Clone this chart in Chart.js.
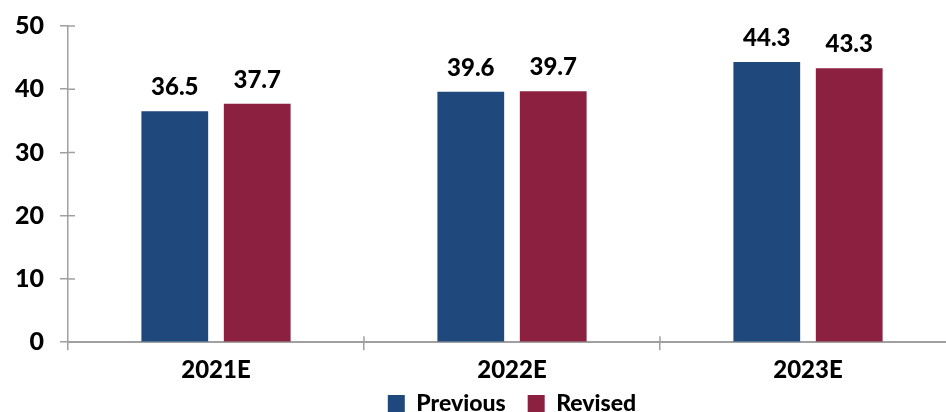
<!DOCTYPE html>
<html>
<head>
<meta charset="utf-8">
<script src="https://cdn.jsdelivr.net/npm/chart.js@4.4.1/dist/chart.umd.min.js"></script>
<style>
  html, body { margin: 0; padding: 0; background: #fff; overflow: hidden; }
  #wrap { width: 946px; height: 412px; overflow: hidden; }
</style>
</head>
<body>
<div id="wrap"><canvas id="chart" width="960" height="412"></canvas></div>
<script>
// Data
const categories = ['2021E', '2022E', '2023E'];
const previous = [36.5, 39.6, 44.3];
const revised = [37.7, 39.7, 43.3];
const yTicks = [0, 10, 20, 30, 40, 50];

const colors = {
  previous: '#1F497D',
  revised: '#8C2041',
  axis: '#A0A0A0',
  text: '#000000'
};
const fontFamily = 'Lato, "Open Sans", Arial, sans-serif';

// Value labels above bars
const valueLabels = {
  id: 'valueLabels',
  afterDatasetsDraw(chart) {
    const { ctx } = chart;
    ctx.save();
    ctx.font = `900 24px ${fontFamily}`;
    ctx.fillStyle = colors.text;
    ctx.textAlign = 'center';
    ctx.textBaseline = 'alphabetic';
    chart.data.datasets.forEach((ds, di) => {
      chart.getDatasetMeta(di).data.forEach((bar, i) => {
        ctx.fillText(ds.data[i].toFixed(1), bar.x, bar.y - 16);
      });
    });
    ctx.restore();
  }
};

// Short tick marks that cross the axes (inner half)
const crossTicks = {
  id: 'crossTicks',
  afterDraw(chart) {
    const { ctx, scales: { x, y } } = chart;
    ctx.save();
    ctx.strokeStyle = colors.axis;
    ctx.lineWidth = 1.5;
    yTicks.forEach(v => {
      const py = y.getPixelForValue(v);
      ctx.beginPath();
      ctx.moveTo(x.left, py);
      ctx.lineTo(x.left + 7, py);
      ctx.stroke();
    });
    for (let i = 1; i < categories.length; i++) {
      const px = (x.getPixelForValue(i - 1) + x.getPixelForValue(i)) / 2;
      ctx.beginPath();
      ctx.moveTo(px, y.bottom);
      ctx.lineTo(px, y.bottom - 6);
      ctx.stroke();
    }
    ctx.restore();
  }
};

// Wide legend item spacing needs a big padding, which also pushes the row down; lift it back
const legendLift = {
  id: 'legendLift',
  afterLayout(chart) {
    const lg = chart.legend;
    if (!lg) return;
    lg.top -= 21;
    lg.bottom -= 21;
  }
};

new Chart(document.getElementById('chart'), {
  type: 'bar',
  data: {
    labels: categories,
    datasets: [
      { label: 'Previous', data: previous, backgroundColor: colors.previous },
      { label: 'Revised', data: revised, backgroundColor: colors.revised }
    ]
  },
  options: {
    responsive: false,
    animation: false,
    layout: { padding: { top: 26, left: -1, right: 4, bottom: -34 } },
    datasets: { bar: { categoryPercentage: 0.557, barPercentage: 0.81 } },
    scales: {
      x: {
        grid: { display: true, drawOnChartArea: false, offset: true, tickLength: 8, color: colors.axis, lineWidth: 1.5 },
        border: { display: true, color: colors.axis, width: 2 },
        ticks: { color: colors.text, font: { family: fontFamily, size: 24, weight: '900' }, padding: 6 }
      },
      y: {
        min: 0,
        max: 50,
        afterBuildTicks: (scale) => { scale.ticks = yTicks.map(v => ({ value: v })); },
        grid: { display: true, drawOnChartArea: false, tickLength: 8, color: colors.axis, lineWidth: 1.5 },
        border: { display: true, color: colors.axis, width: 1.5 },
        ticks: { color: colors.text, font: { family: fontFamily, size: 25, weight: '900', lineHeight: 0.6 }, padding: 16 }
      }
    },
    plugins: {
      legend: {
        position: 'bottom',
        fullSize: false,
        labels: {
          color: colors.text,
          font: { family: fontFamily, size: 23, weight: '900' },
          boxWidth: 17,
          boxHeight: 17,
          padding: 22
        }
      },
      tooltip: { enabled: false }
    }
  },
  plugins: [valueLabels, crossTicks, legendLift]
});
</script>
</body>
</html>
